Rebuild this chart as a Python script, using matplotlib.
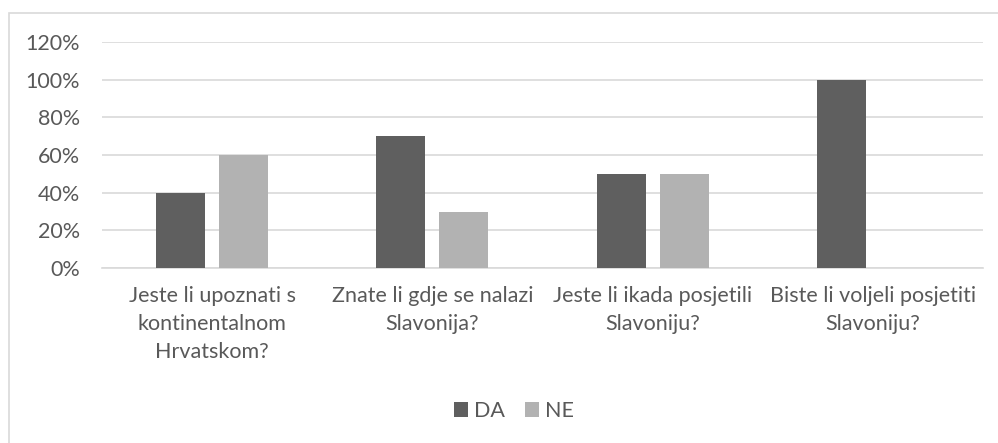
import matplotlib.pyplot as plt
from matplotlib.patches import Rectangle
from matplotlib.ticker import PercentFormatter
import numpy as np

plt.rcParams['font.family'] = ['Lato', 'DejaVu Sans']

categories = ['Jeste li upoznati s\nkontinentalnom\nHrvatskom?',
              'Znate li gdje se nalazi\nSlavonija?',
              'Jeste li ikada posjetili\nSlavoniju?',
              'Biste li voljeli posjetiti\nSlavoniju?']
da = [40, 70, 50, 100]
ne = [60, 30, 50, 0]

text_col = '#595959'
fs = 15.5
fig = plt.figure(figsize=(9.98, 4.43), dpi=100)
ax = fig.add_axes([102 / 998, 1 - 268 / 443, 881 / 998, 226 / 443])

x = np.arange(len(categories))
w = 0.2225
off = 0.143
ax.bar(x - off, da, w, color='#5f5f5f', label='DA', zorder=3)
ax.bar(x + off, ne, w, color='#b2b2b2', label='NE', zorder=3)

ax.set_xlim(-0.5, len(categories) - 0.5)
ax.set_ylim(0, 120)
ax.set_yticks(range(0, 121, 20))
ax.yaxis.set_major_formatter(PercentFormatter(decimals=0))
ax.set_xticks(x)
ax.set_xticklabels(categories, linespacing=1.5)
ax.tick_params(axis='both', length=0, labelsize=fs, colors=text_col)
ax.tick_params(axis='y', pad=16)
ax.tick_params(axis='x', pad=13)
ax.grid(axis='y', color='#d9d9d9', linewidth=1.2, zorder=0)
for s in ['top', 'right', 'left']:
    ax.spines[s].set_visible(False)
ax.spines['bottom'].set_color('#d9d9d9')
ax.spines['bottom'].set_linewidth(1.2)

leg = fig.legend(loc='center', bbox_to_anchor=(514 / 998, 1 - 411 / 443), ncol=2,
                 frameon=False, fontsize=fs, handlelength=0.65, handleheight=0.65,
                 handletextpad=0.3, columnspacing=0.9)
for t in leg.get_texts():
    t.set_color(text_col)

fig.patches.append(Rectangle((9 / 998, -0.1), 1.1, 1 - 13 / 443 + 0.1, transform=fig.transFigure,
                             fill=False, edgecolor='#d9d9d9', linewidth=1.2))

fig.savefig('out.png', dpi=100)
